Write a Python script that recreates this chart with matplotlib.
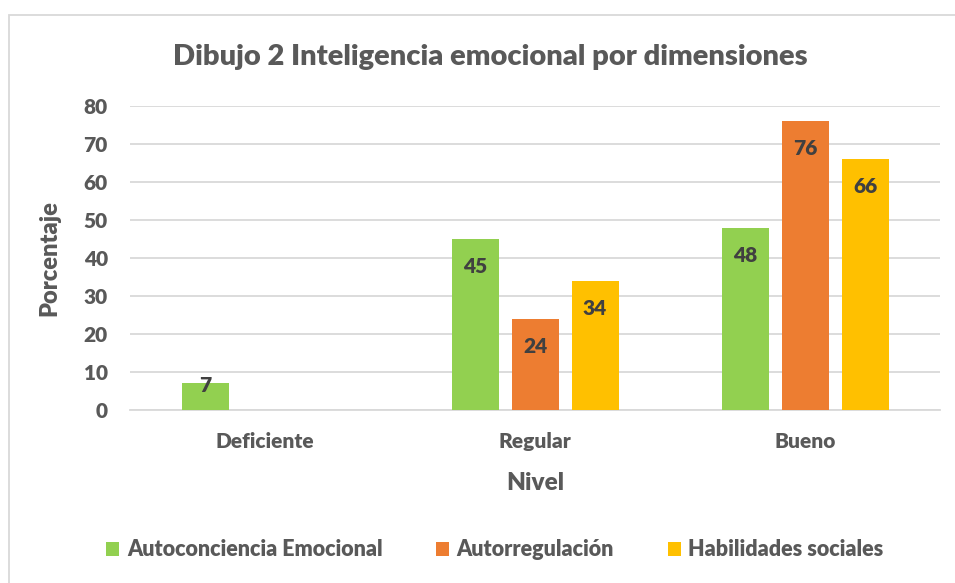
import matplotlib
matplotlib.use("Agg")
import matplotlib.pyplot as plt
from matplotlib.patches import Rectangle
import numpy as np

categories = ["Deficiente", "Regular", "Bueno"]
series_names = ["Autoconciencia Emocional", "Autorregulación", "Habilidades sociales"]
autoconciencia = [7, 45, 48]
autorregulacion = [None, 24, 76]
habilidades = [None, 34, 66]
yticks = [0, 10, 20, 30, 40, 50, 60, 70, 80]

colors = ["#92D050", "#ED7D31", "#FFC000"]
text_gray = "#595959"
label_dark = "#404040"
grid_gray = "#D9D9D9"
FW = 800

plt.rcParams['font.family'] = ['Lato', 'DejaVu Sans']
plt.rcParams['font.weight'] = FW

W, H = 955, 583
fig = plt.figure(figsize=(W / 100, H / 100), dpi=100)
fig.patch.set_facecolor("white")

# chart frame
fig.patches.append(Rectangle((9 / W, -0.05), 1.2, (H - 15) / H + 0.05, transform=fig.transFigure,
                             fill=False, edgecolor=grid_gray, linewidth=1.3, zorder=0))

ax = fig.add_axes([130 / W, (H - 410) / H, 810 / W, 304 / H])
x = np.arange(len(categories))
width = 47 / 270
offset = 60 / 270

all_series = [autoconciencia, autorregulacion, habilidades]
for i, (vals, name, col) in enumerate(zip(all_series, series_names, colors)):
    xs = [xi + (i - 1) * offset for xi, v in zip(x, vals) if v is not None]
    vs = [v for v in vals if v is not None]
    bars = ax.bar(xs, vs, width=width, color=col, label=name, zorder=3)
    for b, v in zip(bars, vs):
        dy = -20 if v > 16 else -1.5
        ax.annotate(str(v), (b.get_x() + b.get_width() / 2, v), xytext=(0, dy),
                    textcoords="offset points", ha="center", va="center",
                    fontsize=15, fontweight=FW, color=label_dark, zorder=4)

ax.set_xlim(-0.5, 2.5)
ax.set_ylim(0, 80)
ax.set_yticks(yticks)
ax.set_xticks(x)
ax.set_xticklabels(categories)
ax.grid(axis="y", color=grid_gray, linewidth=1.3, zorder=0)
ax.set_axisbelow(True)
for s in ["top", "right", "left"]:
    ax.spines[s].set_visible(False)
ax.spines["bottom"].set_color(grid_gray)
ax.spines["bottom"].set_linewidth(1.3)
ax.tick_params(axis="both", length=0, labelsize=15, colors=text_gray)
ax.tick_params(axis="y", pad=16)
ax.tick_params(axis="x", pad=16)
for lab in ax.get_xticklabels() + ax.get_yticklabels():
    lab.set_fontweight(FW)

ax.set_xlabel("Nivel", fontsize=17.5, fontweight=FW, color=text_gray, labelpad=15)
ax.set_ylabel("Porcentaje", fontsize=17, fontweight=FW, color=text_gray, labelpad=17)

fig.text(490 / W, 1 - 57 / H, "Dibujo 2 Inteligencia emocional por dimensiones",
         ha="center", va="center", fontsize=21, fontweight=FW, color=text_gray)

leg = fig.legend(loc="center", bbox_to_anchor=(495 / W, 1 - 550 / H), ncol=3, frameon=False,
                 prop={"size": 15.5, "weight": FW}, handlelength=0.6, handleheight=0.6,
                 handletextpad=0.35, columnspacing=2.5)
for t in leg.get_texts():
    t.set_color(text_gray)

fig.savefig("out.png", dpi=100, facecolor="white")
